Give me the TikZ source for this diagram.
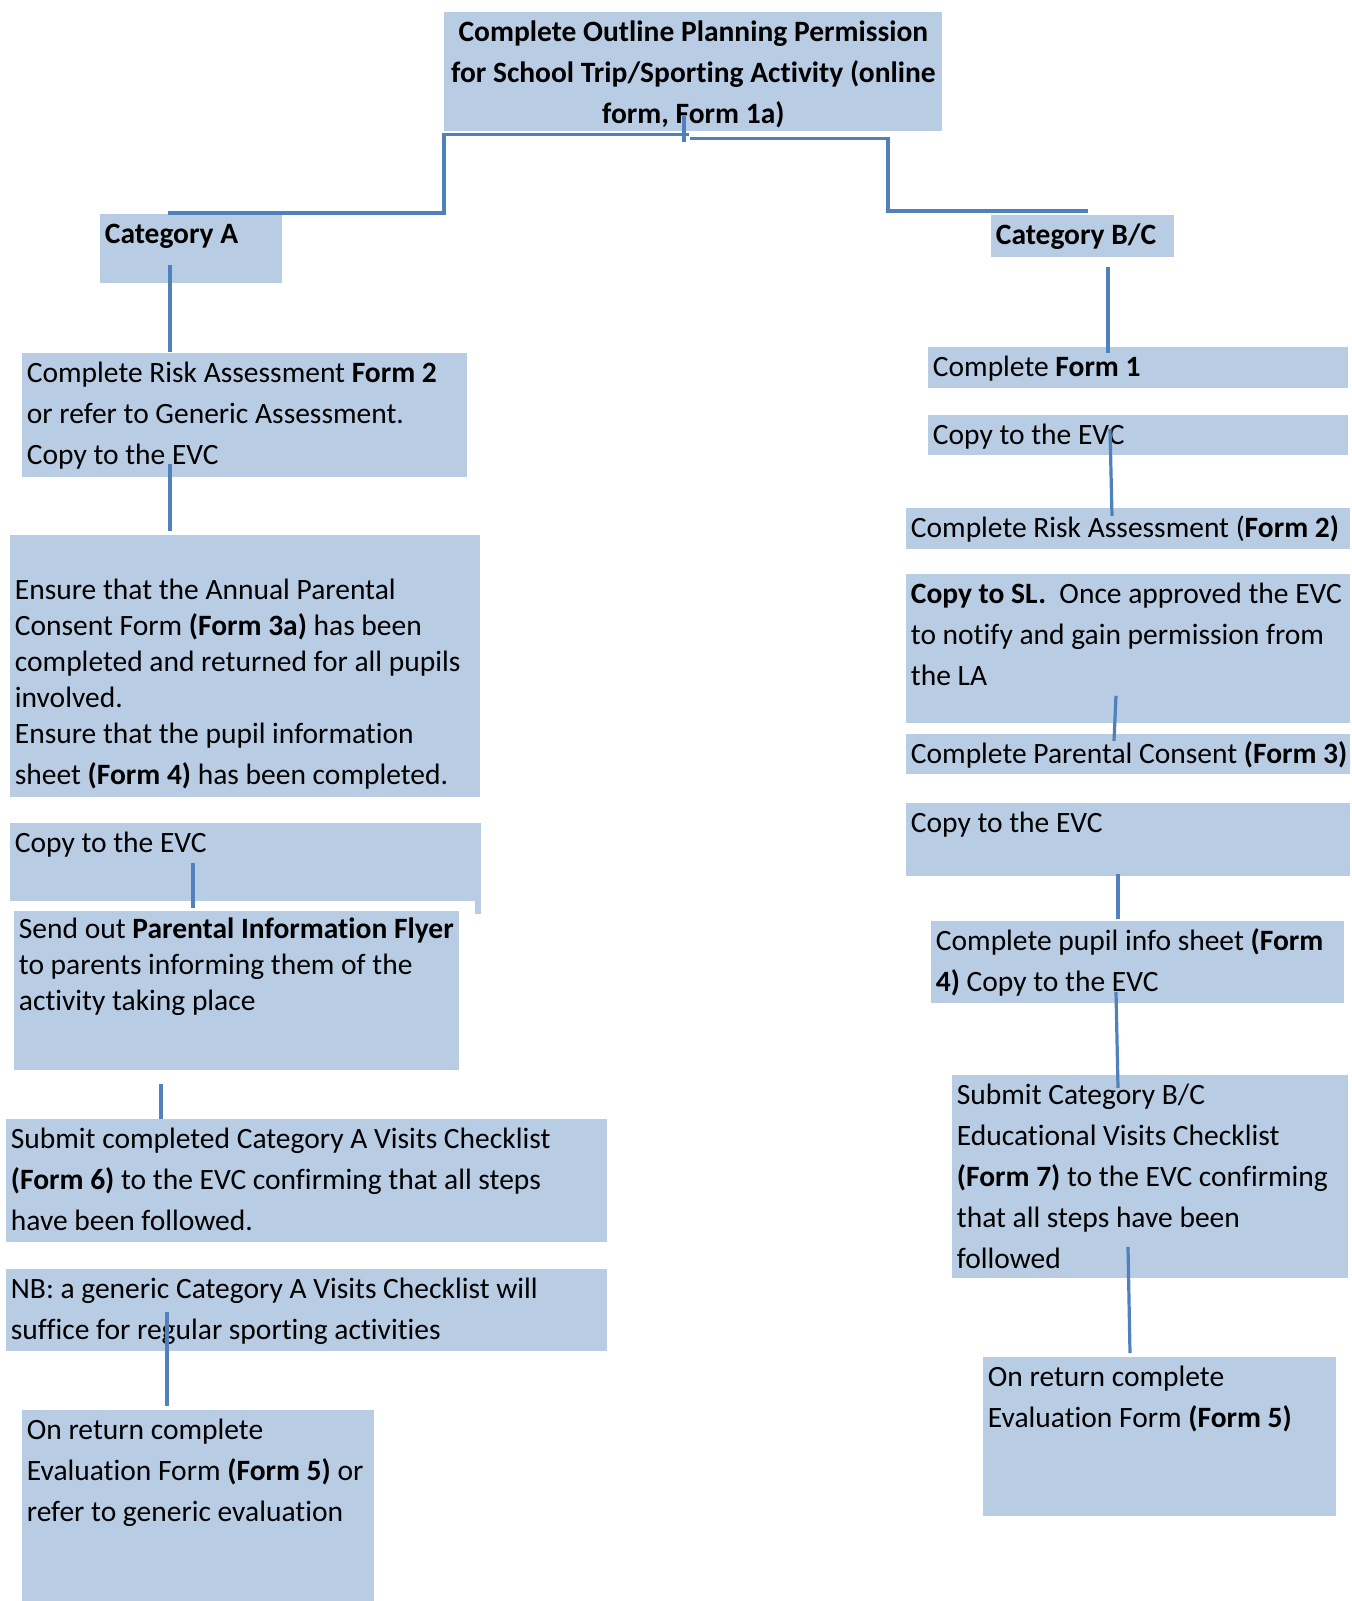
\documentclass[tikz,border=0pt]{standalone}
\usepackage{fontspec}
\setmainfont[Ligatures=NoCommon]{Carlito}
\usetikzlibrary{calc}
\definecolor{cardblue}{HTML}{B8CCE4}
\definecolor{linkblue}{HTML}{4F81BD}
\newlength{\px}
\setlength{\px}{0.5pt}
% text of one card: width, height (px), contents
\newcommand{\cardtext}[3]{\parbox[t][#2\px][t]{#1\px}{\fontsize{14.75}{20.5}\selectfont\raggedright\leftskip=4.5\px #3}}
\newcommand{\cardtextc}[3]{\parbox[t][#2\px][t]{#1\px}{\fontsize{14.75}{20.5}\selectfont\centering #3}}

\begin{document}
\begin{tikzpicture}[x=0.5pt, y=-0.5pt,
    card/.style={fill=cardblue, inner sep=0pt, anchor=north west},
    link/.style={draw=linkblue, line width=1.6pt}]
  \useasboundingbox (0,0) rectangle (1351,1601);

  % top of the chart
  \node[card] (top) at (444,12) {\cardtextc{498}{119}{\bfseries\strut Complete Outline Planning Permission\\ for School Trip/Sporting Activity (online\\ form, Form 1a)}};
  \node[card] (catA) at (100,214) {\cardtext{182}{69}{\strut\textbf{Category A}}};
  \node[card] (catBC) at (991,215) {\cardtext{183}{42}{\strut\textbf{Category B/C}}};

  % category A
  \node[card] (riskA) at (22,353) {\cardtext{445}{124}{\strut Complete Risk Assessment \textbf{Form 2}\\ or refer to Generic Assessment.\\ Copy to the EVC}};
  \node[card] (ensureA) at (10,535) {\cardtext{470}{262}{\fontsize{14.75}{18}\selectfont\rule{0pt}{14pt}\\ Ensure that the Annual Parental\\ Consent Form \textbf{(Form 3a)} has been\\ completed and returned for all pupils\\ involved.\\ Ensure that the pupil information\\[2.5pt] sheet \textbf{(Form 4)} has been completed.}};
  \node[card] (copyA) at (10,823) {\cardtext{471}{78}{\strut Copy to the EVC}};
  \fill[cardblue] (475,901) rectangle (481,914);
  \node[card] (flyerA) at (14,911) {\cardtext{445}{159}{\fontsize{14.75}{18}\selectfont\rule{0pt}{13.5pt}Send out \textbf{Parental Information Flyer}\\ to parents informing them of the\\ activity taking place}};
  \node[card] (checkA) at (6,1119) {\cardtext{601}{123}{\strut Submit completed Category A Visits Checklist\\ \textbf{(Form 6)} to the EVC confirming that all steps\\ have been followed.}};
  \node[card] (nbA) at (6,1269) {\cardtext{601}{82}{\strut NB: a generic Category A Visits Checklist will\\ suffice for regular sporting activities}};
  \node[card] (evalA) at (22,1410) {\cardtext{352}{191}{\strut On return complete\\ Evaluation Form \textbf{(Form 5)} or\\ refer to generic evaluation}};

  % category B/C
  \node[card] (formB) at (928,347) {\cardtext{420}{41}{\strut Complete \textbf{Form 1}}};
  \node[card] (copyB) at (928,415) {\cardtext{420}{40}{\strut Copy to the EVC}};
  \node[card] (riskB) at (906,508) {\cardtext{444}{41}{\strut Complete Risk Assessment (\textbf{Form 2)}}};
  \node[card] (slB) at (906,574) {\cardtext{444}{149}{\strut\textbf{Copy to SL.}\ \ Once approved the EVC\\ to notify and gain permission from\\ the LA}};
  \node[card] (consentB) at (906,734) {\cardtext{444}{40}{\strut Complete Parental Consent \textbf{(Form 3)}}};
  \node[card] (copyB2) at (906,803) {\cardtext{444}{73}{\strut Copy to the EVC}};
  \node[card] (pupilB) at (931,921) {\cardtext{413}{82}{\strut Complete pupil info sheet \textbf{(Form}\\ \textbf{4)} Copy to the EVC}};
  \node[card] (checkB) at (952,1075) {\cardtext{396}{203}{\strut Submit Category B/C\\ Educational Visits Checklist\\ \textbf{(Form 7)} to the EVC confirming\\ that all steps have been\\ followed}};
  \node[card] (evalB) at (983,1357) {\cardtext{353}{159}{\strut On return complete\\ Evaluation Form \textbf{(Form 5)}}};

  % connectors
  \draw[link] ($(top.south west)+(240,-16)$) -- ($(top.south west)+(240,10)$);
  \draw[link] ($(top.south west)+(245,3)$) -- ($(top.south west)+(0,3)$) |- ($(catA.north west)+(68,-1)$);
  \draw[link] ($(top.south west)+(246,7)$) -- ($(top.south west)+(444,7)$) |- ($(catBC.north west)+(97,-4)$);
  \draw[link] ($(catA.north west)+(70,51)$) -- ($(riskA.north west)+(148,-1)$);
  \draw[link] ($(riskA.south west)+(148,-14)$) -- ($(ensureA.north west)+(160,-4)$);
  \draw[link] ($(copyA.north west)+(183,40)$) -- ($(flyerA.north west)+(179,-3)$);
  \draw[link] ($(flyerA.south west)+(147,13)$) -- ($(checkA.north west)+(155,0)$);
  \draw[link] ($(nbA.north west)+(161,43)$) -- ($(evalA.north west)+(145,-4)$);
  \draw[link] ($(catBC.south west)+(117,9)$) -- ($(formB.north west)+(180,6)$);
  \draw[link] ($(copyB.north west)+(182,14)$) -- ($(riskB.north west)+(206,8)$);
  \draw[link] ($(slB.south west)+(210,-28)$) -- ($(consentB.north west)+(208,7)$);
  \draw[link] ($(copyB2.south west)+(212,-3)$) -- ($(pupilB.north west)+(187,-2)$);
  \draw[link] ($(pupilB.south west)+(185,-12)$) -- ($(checkB.north west)+(166,13)$);
  \draw[link] ($(checkB.south west)+(176,-32)$) -- ($(evalB.north west)+(147,-4)$);
\end{tikzpicture}
\end{document}
